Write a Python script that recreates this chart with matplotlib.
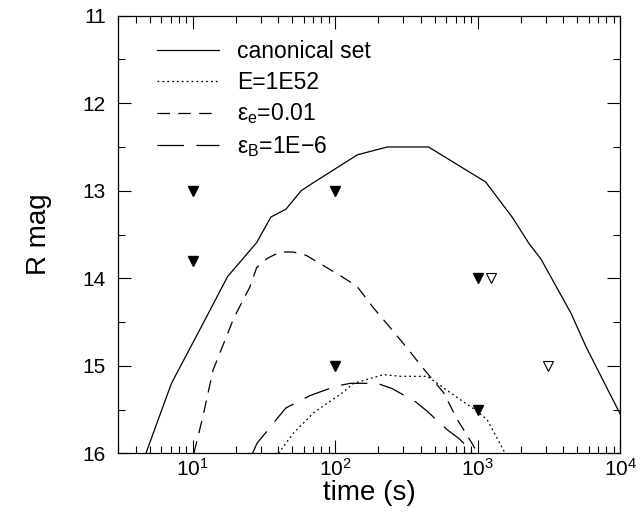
import matplotlib
matplotlib.use("Agg")
import matplotlib.pyplot as plt
from matplotlib.ticker import LogLocator, MultipleLocator

plt.rcParams['font.family'] = ['Liberation Sans', 'DejaVu Sans']
plt.rcParams['mathtext.fontset'] = 'custom'
plt.rcParams['mathtext.rm'] = 'Liberation Sans'
plt.rcParams['mathtext.it'] = 'Liberation Sans:italic'
plt.rcParams['mathtext.default'] = 'regular'
plt.rcParams['lines.scale_dashes'] = False

# ---- data ----
canon_t = [4.7, 7.1, 11.2, 17.6, 28.2, 35.4, 45.2, 57.7, 70, 143, 232, 452,
           1138, 1762, 2285, 2780, 4520, 5750, 8410, 10000]
canon_m = [16.0, 15.2, 14.59, 13.98, 13.59, 13.30, 13.21, 13.0, 12.91, 12.59, 12.5, 12.5,
           12.9, 13.31, 13.6, 13.78, 14.40, 14.78, 15.31, 15.55]

e52_t = [40, 50.8, 70.3, 87.5, 108, 135, 219, 287, 443, 520, 646, 995, 1170, 1560]
e52_m = [16.0, 15.77, 15.54, 15.43, 15.33, 15.2, 15.1, 15.12, 15.12, 15.2, 15.31, 15.52, 15.62, 16.0]

ee_t = [10.2, 11.8, 13.9, 19.5, 25.2, 28.1, 33.6, 41, 50.8, 63, 76, 92, 111, 142, 186,
        251, 328, 430, 579, 711, 893, 1000]
ee_m = [16.0, 15.58, 15.05, 14.45, 14.10, 13.88, 13.77, 13.70, 13.70, 13.74, 13.82, 13.90,
        13.98, 14.09, 14.34, 14.59, 14.82, 15.06, 15.31, 15.6, 15.86, 16.0]

eb_t = [26.3, 28.4, 33.9, 38.8, 45.2, 55.2, 66.7, 87.5, 103, 128, 197, 251, 366, 443,
        611, 738, 891, 920]
eb_m = [16.0, 15.88, 15.73, 15.61, 15.48, 15.41, 15.34, 15.27, 15.23, 15.2, 15.2, 15.26,
        15.41, 15.52, 15.73, 15.83, 15.96, 16.0]

filled_t = [10, 10, 100, 100, 1000, 1000]
filled_m = [13.0, 13.8, 13.0, 15.0, 14.0, 15.5]
open_t = [1250, 3100]
open_m = [14.0, 15.0]

labels = ['canonical set', 'E=1E52', r'ε$_\mathregular{e}$=0.01', r'ε$_\mathregular{B}$=1E$-$6']

# ---- plot ----
fig = plt.figure(figsize=(6.42, 5.14), dpi=100)
ax = fig.add_axes([0.184, 0.118, 0.782, 0.8515])

lw = 0.9
ax.plot(canon_t, canon_m, color='black', lw=lw, label=labels[0])
l2, = ax.plot(e52_t, e52_m, color='black', lw=lw, label=labels[1])
l2.set_dashes((1.3, 2.2))
l3, = ax.plot(ee_t, ee_m, color='black', lw=lw, label=labels[2])
l3.set_dashes((9, 6))
l4, = ax.plot(eb_t, eb_m, color='black', lw=lw, label=labels[3])
l4.set_dashes((19, 9))

ax.plot(filled_t, filled_m, linestyle='none', marker='v', color='black', ms=7, clip_on=False)
ax.plot(open_t, open_m, linestyle='none', marker='v', mfc='white', mec='black', mew=0.8,
        ms=7, clip_on=False)

ax.set_xscale('log')
ax.set_xlim(3, 1e4)
ax.set_ylim(16, 11)
ax.yaxis.set_major_locator(MultipleLocator(1))
ax.yaxis.set_minor_locator(MultipleLocator(0.5))
ax.xaxis.set_major_locator(LogLocator(base=10, numticks=10))
ax.xaxis.set_minor_locator(LogLocator(base=10, subs=range(2, 10), numticks=50))

ax.tick_params(which='both', direction='in', top=True, right=True, labelsize=15,
               width=0.8, color='black')
ax.tick_params(which='major', length=9.5)
ax.tick_params(which='minor', length=5)
ax.tick_params(axis='y', which='major', pad=9)
for s in ax.spines.values():
    s.set_linewidth(0.9)

ax.set_xlabel('time (s)', fontsize=20, labelpad=0)
ax.set_ylabel('R mag', fontsize=20, labelpad=22)

leg = ax.legend(loc='upper left', frameon=False, fontsize=16.5, handlelength=2.7,
                handletextpad=0.8, labelspacing=0.33, borderaxespad=0.3,
                bbox_to_anchor=(0.045, 0.98))

fig.savefig('out.png', dpi=100)
